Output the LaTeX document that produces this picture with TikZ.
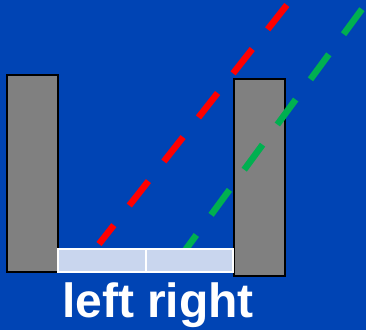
\documentclass[tikz,border=0pt]{standalone}
\usepackage{fontspec}
\setmainfont{Liberation Sans}
\definecolor{bgblue}{RGB}{0,68,180}
\definecolor{wallgray}{RGB}{128,128,128}
\definecolor{barblue}{RGB}{201,214,238}
\definecolor{rayred}{RGB}{255,0,0}
\definecolor{raygreen}{RGB}{0,176,80}
\tikzset{
  wall/.style={fill=wallgray, draw=black, line width=2pt},
  bar/.style={fill=barblue, draw=white, line width=1.8pt},
  ray/.style={line width=6.5pt, line cap=butt, dash pattern=on 31pt off 25pt},
  lbl/.style={text=white, font=\bfseries\fontsize{48}{50}\selectfont, inner sep=0pt, anchor=base}
}
\begin{document}
\begin{tikzpicture}[x=1pt,y=-1pt]
  \fill[bgblue] (0,0) rectangle (366,330);
  \useasboundingbox (0,0) rectangle (366,330);
  \begin{scope}
    \clip (0,0) rectangle (366,330);
    \draw[wall] (7,75) rectangle (58,272);
    \draw[wall] (234,79) rectangle (285,276);
    \draw[ray, rayred, dash phase=7pt] (99,244) -- (298.6,-10);
    \draw[ray, raygreen] (178,260) -- (376,-10);
    \draw[bar] (58,249) rectangle (146,272);
    \draw[bar] (146,249) rectangle (233,272);
  \end{scope}
  \node[lbl] (txt) at (158,317.5) {left right};
\end{tikzpicture}
\end{document}
